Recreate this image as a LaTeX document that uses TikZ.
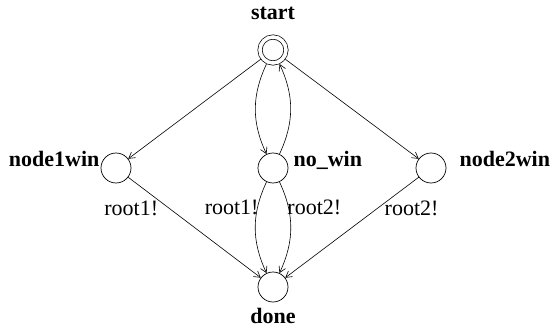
\documentclass[tikz,border=0pt]{standalone}
\usepackage{fontspec}
\setmainfont{Liberation Serif}
\usetikzlibrary{positioning, arrows.meta}

\tikzset{
    state/.style={draw, circle, line width=0.7pt, minimum size=30pt, inner sep=0pt},
    initial state/.style={state, minimum size=26pt, double, double distance=3.6pt, outer sep=2.5pt},
    statename/.style={font=\fontsize{22}{24}\selectfont\bfseries, inner sep=0pt},
    trans/.style={->, line width=0.6pt},
    sync/.style={font=\fontsize{22}{24}\selectfont, inner sep=1pt},
    >={Straight Barb[length=6pt, width=7pt]}
}

\begin{document}
\begin{tikzpicture}[x=1pt, y=1pt]
    \useasboundingbox (0, 0) rectangle (550, 333);

    \node (start) [initial state] at (273, 283) {};
    \node (nowin) [state] at (273, 165) {};
    \node (nodeonewin) [state] at (116, 165) {};
    \node (nodetwowin) [state] at (431, 165) {};
    \node (done) [state] at (273, 46) {};

    % state names
    \node (startname) [statename, anchor=base] at ([yshift=14.5pt]start.north) {start};
    \node (nowinname) [statename, anchor=base west] at ([xshift=5pt, yshift=2pt]nowin.east) {no\_win};
    \node (nodeonewinname) [statename, anchor=base east] at ([xshift=-1pt, yshift=1.5pt]nodeonewin.west) {node1win};
    \node (nodetwowinname) [statename, anchor=base west] at ([xshift=13pt, yshift=2pt]nodetwowin.east) {node2win};
    \node (donename) [statename, anchor=base] at ([yshift=-21pt]done.south) {done};

    \draw [trans] (start) -- (nodeonewin);
    \draw [trans] (start) -- (nodetwowin);
    \draw [trans] (start) to[bend right=25] (nowin);
    \draw [trans] (nowin) to[bend right=25] (start);

    \draw [trans] (nodeonewin) -- node (syncone) [sync, pos=0.22, anchor=north east, xshift=2pt] {root1!} (done);
    \draw [trans] (nowin) to[bend right=25] node (synctwo) [sync, pos=0.18, anchor=north east] {root1!} (done);
    \draw [trans] (nowin) to[bend left=25] node (syncthree) [sync, pos=0.18, anchor=north west] {root2!} (done);
    \draw [trans] (nodetwowin) -- node (syncfour) [sync, pos=0.22, anchor=north west, xshift=-6pt] {root2!} (done);
\end{tikzpicture}
\end{document}
